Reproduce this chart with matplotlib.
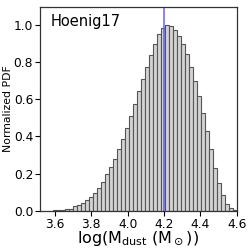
import matplotlib
matplotlib.use("Agg")
import matplotlib.pyplot as plt
import numpy as np

# normalized PDF heights of the histogram bins (left to right)
pdf = [0.001, 0.002, 0.004, 0.008, 0.011, 0.024, 0.032, 0.043, 0.056, 0.074,
       0.097, 0.121, 0.153, 0.198, 0.236, 0.277, 0.331, 0.389, 0.448, 0.509,
       0.576, 0.644, 0.711, 0.777, 0.840, 0.898, 0.952, 0.984, 1.000, 0.998,
       0.975, 0.943, 0.898, 0.844, 0.775, 0.700, 0.617, 0.526, 0.430, 0.333,
       0.232, 0.148, 0.085, 0.036, 0.013, 0.002]
bin_start = 3.588
bin_width = 0.022
median = 4.2
label = "Hoenig17"

edges = bin_start + bin_width * np.arange(len(pdf) + 1)
centers = (edges[:-1] + edges[1:]) / 2

fig = plt.figure(figsize=(2.49, 2.49), dpi=100)
ax = fig.add_axes([0.161, 0.154, 0.79, 0.819])

ax.hist(centers, bins=edges, weights=pdf, facecolor="lightgray",
        edgecolor="#555555", linewidth=0.8)
ax.axvline(median, color="#5555ff", lw=1.2, alpha=0.85)

ax.text(0.055, 0.965, label, transform=ax.transAxes, ha="left", va="top", fontsize=10.5)

ax.set_xlim(3.518, 4.6)
ax.set_ylim(0, 1.1)
ax.set_xticks(np.arange(3.6, 4.61, 0.2))
ax.set_yticks(np.arange(0, 1.01, 0.2))
ax.tick_params(labelsize=8.8, length=3.5, width=0.8, pad=1.5)
ax.set_ylabel("Normalized PDF", fontsize=7.8, labelpad=0.5)
ax.set_xlabel(r"log(M$_\mathrm{dust}$ (M$_\odot$))", fontsize=11.5, labelpad=-1)
for s in ax.spines.values():
    s.set_linewidth(0.9)
    s.set_color("#333333")

fig.savefig("out.png", dpi=100)
